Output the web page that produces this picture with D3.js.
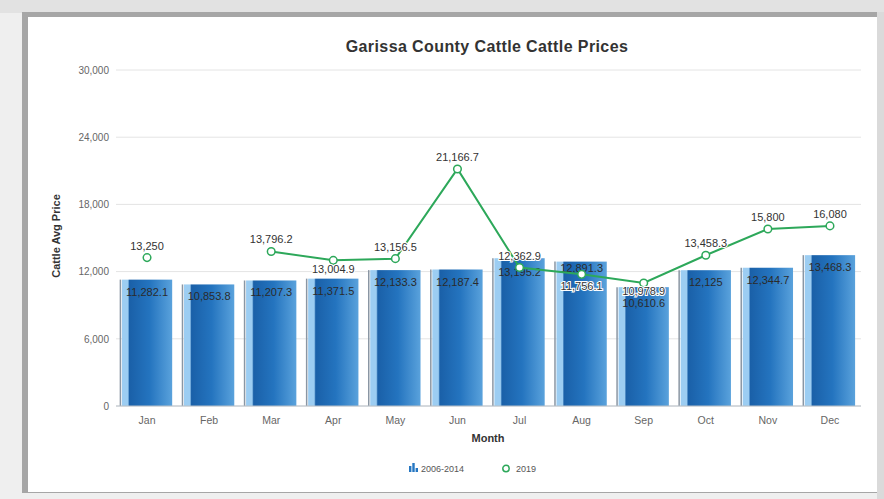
<!DOCTYPE html>
<html>
<head>
<meta charset="utf-8">
<script src="https://cdn.jsdelivr.net/npm/d3@7"></script>
<style>
  html, body { margin: 0; padding: 0; background: #efefef; }
  svg { display: block; font-family: "Liberation Sans", Arial, sans-serif; }
</style>
</head>
<body>
<svg id="chart" width="884" height="499"></svg>
<script>
// Monthly cattle prices, Garissa County
const months = ["Jan","Feb","Mar","Apr","May","Jun","Jul","Aug","Sep","Oct","Nov","Dec"];
const avg2006to2014 = [11282.1, 10853.8, 11207.3, 11371.5, 12133.3, 12187.4, 13195.2, 12891.3, 10610.6, 12125, 12344.7, 13468.3];
const prices2019 = [13250, null, 13796.2, 13004.9, 13156.5, 21166.7, 12362.9, 11756.1, 10978.9, 13458.3, 15800, 16080];
const yTicks = [0, 6000, 12000, 18000, 24000, 30000];
const seriesNames = ["2006-2014", "2019"];

const fmt = v => d3.format(",")(Math.round(v * 10) / 10);

const svg = d3.select("#chart");

// Frame around the chart panel
svg.append("rect").attr("x", 0).attr("y", 0).attr("width", 884).attr("height", 499).attr("fill", "#efefef");
svg.append("rect").attr("x", 0).attr("y", 0).attr("width", 884).attr("height", 13).attr("fill", "#e2e2e2");
svg.append("rect").attr("x", 22).attr("y", 12).attr("width", 857).attr("height", 481).attr("fill", "#a6a6a6");
svg.append("rect").attr("x", 877).attr("y", 12).attr("width", 7).attr("height", 487).attr("fill", "#dadada");
svg.append("rect").attr("x", 28).attr("y", 17).attr("width", 849).attr("height", 475).attr("fill", "#ffffff");

const x = d3.scaleBand().domain(months).range([116, 861]).paddingInner(0.19).paddingOuter(0.095);
const y = d3.scaleLinear().domain([0, 30000]).range([406, 70]);

// Bar gradient
const defs = svg.append("defs");
const grad = defs.append("linearGradient").attr("id", "barGrad").attr("x1", "0%").attr("x2", "100%").attr("y1", "0%").attr("y2", "0%");
[["0%", "#9ccdf2"], ["12%", "#9ccdf2"], ["15%", "#1a60a8"], ["55%", "#2474bf"], ["100%", "#5aa2dc"]]
  .forEach(([o, c]) => grad.append("stop").attr("offset", o).attr("stop-color", c));

// Grid lines
svg.append("g").selectAll("line").data(yTicks).join("line")
  .attr("x1", 116).attr("x2", 861)
  .attr("y1", d => y(d)).attr("y2", d => y(d))
  .attr("stroke", "#e4e4e4").attr("stroke-width", 1);

// Y axis labels
const yAxis = d3.axisLeft(y).tickValues(yTicks).tickFormat(d3.format(",")).tickSize(0).tickPadding(7);
svg.append("g").attr("transform", "translate(116,0)").call(yAxis)
  .call(g => g.select(".domain").remove())
  .call(g => g.selectAll("text").attr("fill", "#666").attr("font-size", 10));

svg.append("text")
  .attr("transform", "translate(60,236) rotate(-90)")
  .attr("text-anchor", "middle").attr("font-size", 11).attr("font-weight", "bold").attr("fill", "#333")
  .text("Cattle Avg Price");

// Bars
const bw = x.bandwidth();
const bars = svg.append("g");
bars.selectAll("line.edge").data(months).join("line").attr("class", "edge")
  .attr("x1", d => x(d) - 1.5).attr("x2", d => x(d) - 1.5)
  .attr("y1", (d, i) => y(avg2006to2014[i])).attr("y2", y(0))
  .attr("stroke", "#8a96a3").attr("stroke-width", 1.5);
bars.selectAll("rect").data(months).join("rect")
  .attr("x", d => x(d)).attr("width", bw)
  .attr("y", (d, i) => y(avg2006to2014[i]))
  .attr("height", (d, i) => y(0) - y(avg2006to2014[i]))
  .attr("fill", "url(#barGrad)");

// X axis
const xAxis = d3.axisBottom(x).tickSize(0).tickPadding(11);
svg.append("g").attr("transform", "translate(0,406)").call(xAxis)
  .call(g => g.select(".domain").attr("stroke", "#b8c0c8").attr("d", "M116,0H861"))
  .call(g => g.selectAll("text").attr("fill", "#666").attr("font-size", 10.5));

svg.append("text").attr("x", 488).attr("y", 442).attr("text-anchor", "middle")
  .attr("font-size", 11).attr("font-weight", "bold").attr("fill", "#333").text("Month");

// Bar value labels, placed just inside the top of each bar
const barLabelOffset = { Jul: 18, Aug: 10, Sep: 20 };
svg.append("g").selectAll("text").data(months).join("text")
  .attr("x", d => x(d) + bw / 2)
  .attr("y", (d, i) => y(avg2006to2014[i]) + (barLabelOffset[d] || 16))
  .attr("text-anchor", "middle").attr("font-size", 11).attr("fill", "#2b2b2b")
  .text((d, i) => fmt(avg2006to2014[i]));

// 2019 line
const pts = months.map((m, i) => ({ m, v: prices2019[i] }));
const line = d3.line().defined(d => d.v !== null)
  .x(d => x(d.m) + bw / 2).y(d => y(d.v));
svg.append("path").datum(pts).attr("d", line)
  .attr("fill", "none").attr("stroke", "#2da85a").attr("stroke-width", 2);

svg.append("g").selectAll("circle").data(pts.filter(d => d.v !== null)).join("circle")
  .attr("cx", d => x(d.m) + bw / 2).attr("cy", d => y(d.v)).attr("r", 3.8)
  .attr("fill", "#fff").attr("stroke", "#2da85a").attr("stroke-width", 1.5);

// 2019 value labels: above the point, except where they sit below it
const lineLabelOffset = { Apr: 13, Aug: 16, Sep: 12 };
svg.append("g").selectAll("text").data(pts.filter(d => d.v !== null)).join("text")
  .attr("x", d => x(d.m) + bw / 2)
  .attr("y", d => y(d.v) + (lineLabelOffset[d.m] || -8))
  .attr("text-anchor", "middle").attr("font-size", 11).attr("fill", "#333")
  .attr("stroke", "#fff").attr("stroke-width", 2).attr("paint-order", "stroke")
  .text(d => fmt(d.v));

// Title
svg.append("text").attr("x", 487).attr("y", 52).attr("text-anchor", "middle")
  .attr("font-size", 16).attr("font-weight", "bold").attr("fill", "#333")
  .attr("letter-spacing", 0.4)
  .text("Garissa County Cattle Cattle Prices");

// Legend
const lg = svg.append("g").attr("transform", "translate(0,468)");
[[0, 6], [3.3, 9], [6.6, 4]].forEach(([dx, h]) => {
  lg.append("rect").attr("x", 409 + dx).attr("y", 4 - h).attr("width", 2.4).attr("height", h).attr("fill", "#2677c2");
});
lg.append("text").attr("x", 421).attr("y", 4).attr("font-size", 9).attr("fill", "#555").text(seriesNames[0]);
lg.append("circle").attr("cx", 506).attr("cy", 0.5).attr("r", 3.2).attr("fill", "#fff").attr("stroke", "#2da85a").attr("stroke-width", 1.5);
lg.append("text").attr("x", 516).attr("y", 4).attr("font-size", 9).attr("fill", "#555").text(seriesNames[1]);
</script>
</body>
</html>
